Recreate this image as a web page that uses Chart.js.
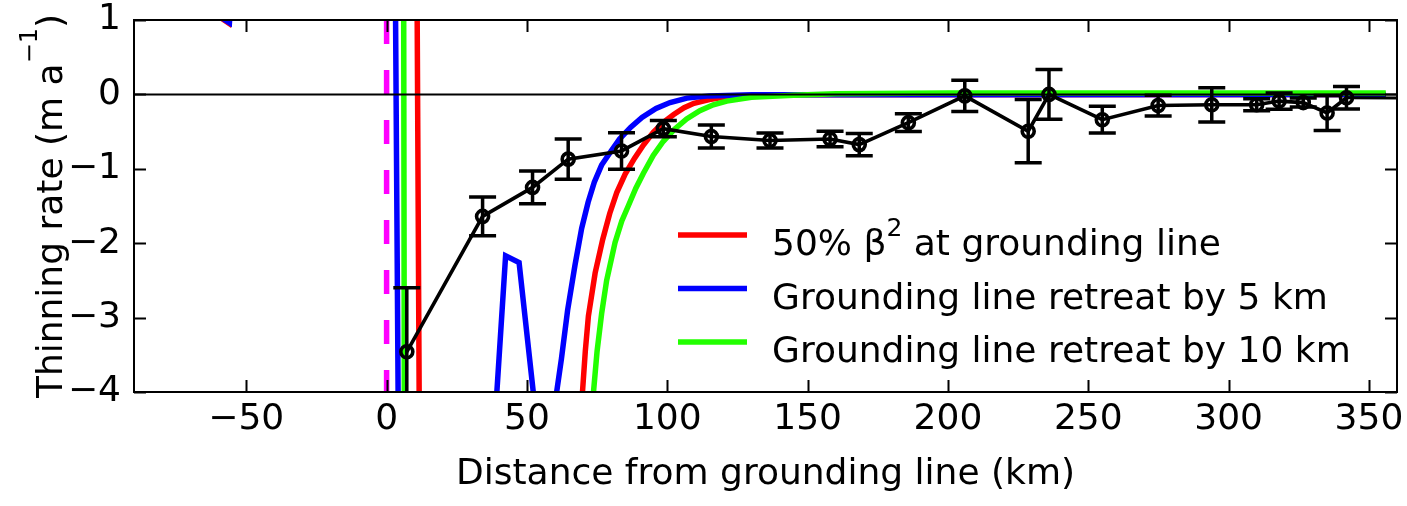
<!DOCTYPE html>
<html><head><meta charset="utf-8">
<script src="https://cdn.jsdelivr.net/npm/chart.js@4.4.0/dist/chart.umd.min.js"></script>
<style>html,body{margin:0;padding:0;background:#fff;}#wrap{width:1407px;height:506px;}</style>
</head><body><div id="wrap"><canvas id="c" width="1407" height="506"></canvas></div>
<script>
// ---- data ----
const xTicks = [-50, 0, 50, 100, 150, 200, 250, 300, 350];
const yTicks = [-4, -3, -2, -1, 0, 1];

const obsX   = [7.2, 34.2, 52, 64.7, 83.7, 98.6, 115.7, 136.6, 158, 168.4, 185.9, 206, 228.6, 236, 255, 274.9, 294, 310, 318, 326.6, 335.1, 342];
const obsY   = [-3.46, -1.64, -1.25, -0.87, -0.76, -0.46, -0.565, -0.62, -0.6, -0.675, -0.38, -0.02, -0.495, 0.0, -0.34, -0.15, -0.14, -0.14, -0.09, -0.11, -0.25, -0.045];
const obsErr = [0.86, 0.26, 0.22, 0.27, 0.245, 0.11, 0.155, 0.10, 0.105, 0.15, 0.12, 0.21, 0.425, 0.335, 0.18, 0.14, 0.23, 0.08, 0.11, 0.06, 0.235, 0.15];

const redX = [-60.3, -56.3, -55.9, -20, 10.76, 11.74, 40, 69.7, 70.8, 71.9, 74.3, 77, 79.5, 82, 85, 88.3, 91.5, 95, 98.5, 102.3, 106, 109.5, 115, 120, 127, 140, 356];
const redY = [1.06, 0.96, 1.2, null, 2, -5, null, -4.05, -3.45, -2.98, -2.4, -1.95, -1.6, -1.32, -1.07, -0.86, -0.68, -0.51, -0.38, -0.27, -0.18, -0.12, -0.07, -0.04, -0.02, -0.005, 0];

const blueX = [-60, -56, -55.6, -20, 3.02, 4.28, 20, 39.2, 42.4, 47.2, 52.4, 56, 60.4, 62.3, 64.5, 67.1, 69.5, 71.8, 74, 76.6, 80, 83, 87, 91, 96, 101, 107, 115, 130, 356];
const blueY = [1.06, 0.965, 1.2, null, 2, -5, null, -4.05, -2.17, -2.26, -4.05, null, -4.05, -3.55, -2.9, -2.3, -1.8, -1.45, -1.18, -0.95, -0.76, -0.6, -0.44, -0.31, -0.19, -0.11, -0.05, -0.02, -0.005, 0];

const greenX = [6.06, 6.34, 40, 73.6, 75, 76.6, 78.4, 81.4, 83.8, 86.1, 88.8, 91.5, 95, 98.6, 102.5, 106.9, 111.6, 116.4, 121.2, 130, 145, 160, 200, 356];
const greenY = [2, -5, null, -4.05, -3.45, -2.95, -2.5, -1.99, -1.7, -1.5, -1.26, -1.06, -0.82, -0.63, -0.47, -0.33, -0.22, -0.14, -0.09, -0.04, -0.01, 0.01, 0.02, 0.02];

const glX = [0, 0];
const glY = [1, -4.3];
const zeroX = [-90, 360];
const zeroY = [0, 0];
const tailX = [342, 360];
const tailY = [-0.045, -0.05];

const legendLabels = ['50% β² at grounding line', 'Grounding line retreat by 5 km', 'Grounding line retreat by 10 km'];
const xTitle = 'Distance from grounding line (km)';
const yTitle = 'Thinning rate (m a⁻¹)';

// ---- build ----
const pts = (xs, ys) => xs.map((v, i) => ({x: v, y: ys[i]}));
const FONT = 'DejaVu Sans';
const fmt = v => String(v).replace('-', '\u2212');

const SUP = {'²': '2', '¹': '1', '⁻': '\u2212'};
function richSegs(str, size, supSize, rise) {
  const segs = []; let cur = '', sup = false;
  for (const ch of str) {
    const s = ch in SUP;
    if (s !== sup && cur) { segs.push({t: cur, sup}); cur = ''; }
    sup = s; cur += s ? SUP[ch] : ch;
  }
  if (cur) segs.push({t: cur, sup});
  return segs.map(g => ({t: g.t, size: g.sup ? supSize : size, rise: g.sup ? rise : 0}));
}
function drawRich(ctx, segs, x, y, center) {
  ctx.textBaseline = 'alphabetic'; ctx.textAlign = 'left';
  let total = 0;
  segs.forEach(s => { ctx.font = s.size + 'px "' + FONT + '"'; s.w = ctx.measureText(s.t).width; total += s.w; });
  let cx = center ? x - total / 2 : x;
  segs.forEach(s => { ctx.font = s.size + 'px "' + FONT + '"'; ctx.fillText(s.t, cx, y - s.rise); cx += s.w; });
}

const errorBars = {
  id: 'errorBars',
  afterDatasetsDraw(chart) {
    const {ctx, chartArea: a, scales: {x, y}} = chart;
    ctx.save();
    ctx.beginPath(); ctx.rect(a.left, a.top, a.right - a.left, a.bottom - a.top); ctx.clip();
    ctx.strokeStyle = '#000'; ctx.lineWidth = 3.5; ctx.lineCap = 'butt';
    obsX.forEach((xv, i) => {
      const px = x.getPixelForValue(xv);
      const t = y.getPixelForValue(obsY[i] + obsErr[i]);
      const b = y.getPixelForValue(obsY[i] - obsErr[i]);
      const w = 13.5;
      ctx.beginPath();
      ctx.moveTo(px, t); ctx.lineTo(px, b);
      ctx.moveTo(px - w, t); ctx.lineTo(px + w, t);
      ctx.moveTo(px - w, b); ctx.lineTo(px + w, b);
      ctx.stroke();
    });
    ctx.restore();
  }
};

const frameAndLegend = {
  id: 'frameAndLegend',
  afterDraw(chart) {
    const {ctx, chartArea: a, scales: {x, y}} = chart;
    ctx.save();
    ctx.strokeStyle = '#000'; ctx.lineWidth = 2; ctx.lineCap = 'butt';
    ctx.strokeRect(a.left, a.top, a.right - a.left, a.bottom - a.top);
    const tl = 12;
    ctx.beginPath();
    x.ticks.forEach(t => {
      const px = Math.round(x.getPixelForValue(t.value)) + 0.5;
      ctx.moveTo(px, a.bottom); ctx.lineTo(px, a.bottom - tl);
      ctx.moveTo(px, a.top); ctx.lineTo(px, a.top + tl);
    });
    y.ticks.forEach(t => {
      const py = Math.round(y.getPixelForValue(t.value)) + 0.5;
      ctx.moveTo(a.left, py); ctx.lineTo(a.left + tl, py);
      ctx.moveTo(a.right, py); ctx.lineTo(a.right - tl, py);
    });
    ctx.stroke();
    ctx.fillStyle = '#000';
    // y title (rotated, with superscript)
    ctx.save();
    ctx.translate(62, (a.top + a.bottom) / 2);
    ctx.rotate(-Math.PI / 2);
    drawRich(ctx, richSegs(yTitle, 36, 24, 25), 0, 0, true);
    ctx.restore();
    // legend
    const entries = chart.data.datasets.filter(d => d.inLegend).sort((p, q) => p.legendOrder - q.legendOrder);
    const lx0 = 678, lx1 = 747, tx = 772, y0 = 235, dy = 53.5;
    entries.forEach((d, i) => {
      const ly = y0 + i * dy;
      ctx.strokeStyle = d.borderColor; ctx.lineWidth = 5.5;
      ctx.beginPath(); ctx.moveTo(lx0, ly); ctx.lineTo(lx1, ly); ctx.stroke();
      drawRich(ctx, richSegs(d.label, 36, 25, 19), tx, ly + 20, false);
    });
    ctx.restore();
  }
};

const lineDs = (label, data, color, width, extra) => Object.assign({
  label, data, borderColor: color, backgroundColor: color, borderWidth: width,
  pointRadius: 0, tension: 0, spanGaps: false, fill: false
}, extra || {});

new Chart(document.getElementById('c'), {
  type: 'line',
  data: {
    datasets: [
      lineDs('Observed', pts(obsX, obsY), '#000', 3.6, {pointRadius: 6, pointBorderWidth: 3.6, pointBackgroundColor: 'rgba(0,0,0,0)', pointBorderColor: '#000'}),
      lineDs('zero', pts(zeroX, zeroY), '#000', 2),
      lineDs('tail', pts(tailX, tailY), '#000', 3),
      lineDs('Grounding line', pts(glX, glY), '#ff00ff', 5.5, {borderDash: [24, 26]}),
      lineDs(legendLabels[2], pts(greenX, greenY), '#22ff00', 5.5, {inLegend: true, legendOrder: 2}),
      lineDs(legendLabels[1], pts(blueX, blueY), '#0000ff', 5.5, {inLegend: true, legendOrder: 1}),
      lineDs(legendLabels[0], pts(redX, redY), '#ff0000', 5.5, {inLegend: true, legendOrder: 0})
    ]
  },
  options: {
    responsive: false, animation: false, devicePixelRatio: 1,
    layout: {padding: {left: 0, right: 10, top: 20, bottom: 0}},
    plugins: {legend: {display: false}, tooltip: {enabled: false}},
    scales: {
      x: {
        type: 'linear', min: -90, max: 360,
        afterBuildTicks: s => { s.ticks = xTicks.map(v => ({value: v})); },
        afterFit: s => { s.height = 114; s.paddingLeft = 0; s.paddingRight = 0; },
        grid: {display: false, drawTicks: false},
        border: {display: false},
        ticks: {font: {family: FONT, size: 36, lineHeight: 1}, color: '#000', padding: 10, maxRotation: 0, autoSkip: false, callback: v => fmt(v)},
        title: {display: true, text: xTitle, color: '#000', font: {family: FONT, size: 36, lineHeight: 1}, padding: {top: 0, bottom: 13}}
      },
      y: {
        type: 'linear', min: -4, max: 1,
        afterBuildTicks: s => { s.ticks = yTicks.map(v => ({value: v})); },
        afterFit: s => { s.width = 134; s.paddingTop = 0; s.paddingBottom = 0; },
        grid: {display: false, drawTicks: false},
        border: {display: false},
        ticks: {font: {family: FONT, size: 36, lineHeight: 1}, color: '#000', padding: 13, autoSkip: false, callback: v => fmt(v)},
        title: {display: false}
      }
    }
  },
  plugins: [errorBars, frameAndLegend]
});
</script>
</body></html>
